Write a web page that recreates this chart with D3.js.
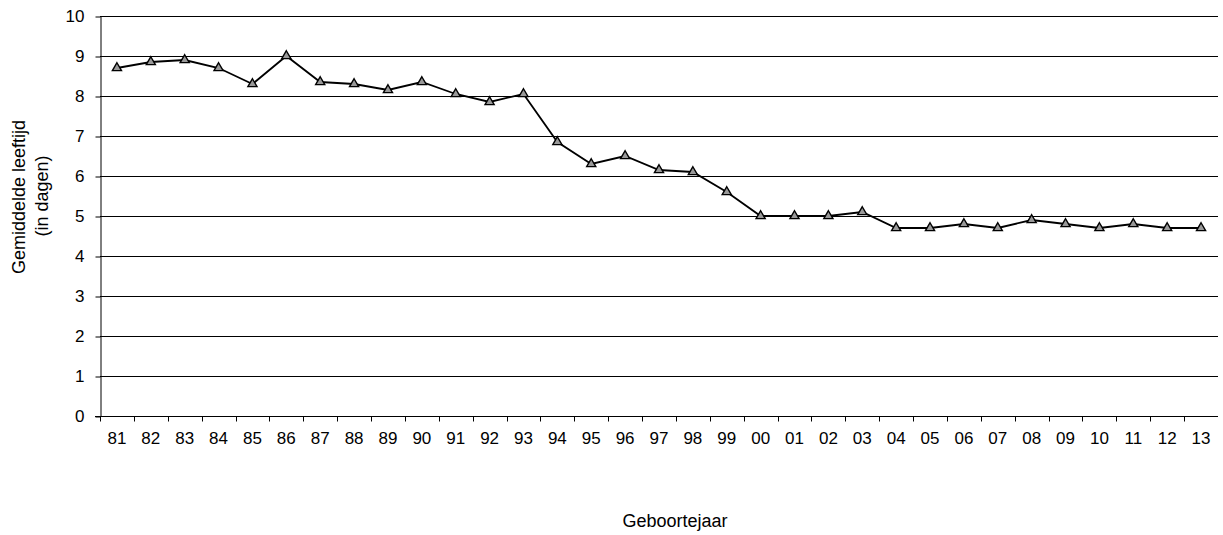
<!DOCTYPE html>
<html>
<head>
<meta charset="utf-8">
<script src="https://cdn.jsdelivr.net/npm/d3@7"></script>
<style>
  body { margin: 0; background: #fff; }
  svg text { font-family: "Liberation Sans", Arial, sans-serif; fill: #000; }
  .axis-text { font-size: 17px; }
  .axis-label { font-size: 18px; }
</style>
</head>
<body>
<div id="chart"></div>
<script>
// categories (birth year, two digits)
const years = ["81","82","83","84","85","86","87","88","89","90","91","92","93","94","95","96","97",
               "98","99","00","01","02","03","04","05","06","07","08","09","10","11","12","13"];
// average age in days
const ages = [8.7, 8.85, 8.9, 8.7, 8.3, 9.0, 8.35, 8.3, 8.15, 8.35, 8.05, 7.85, 8.05, 6.85, 6.3, 6.5, 6.15,
              6.1, 5.6, 5.0, 5.0, 5.0, 5.1, 4.7, 4.7, 4.8, 4.7, 4.9, 4.8, 4.7, 4.8, 4.7, 4.7];
const yTicks = [0, 1, 2, 3, 4, 5, 6, 7, 8, 9, 10];

const width = 1223, height = 535;
const margin = {top: 16, right: 5, bottom: 119, left: 100},
    innerW = width - margin.left - margin.right,
    innerH = height - margin.top - margin.bottom;

const svg = d3.select("#chart")
  .append("svg")
    .attr("width", width)
    .attr("height", height)
  .append("g")
    .attr("transform", "translate(" + margin.left + "," + margin.top + ")");

const xScale = d3.scaleBand()
    .domain(years)
    .range([0, innerW])
    .padding(0);

const yScale = d3.scaleLinear()
    .domain([0, 10])
    .range([innerH, 0]);

// horizontal grid
svg.append("g")
    .selectAll("line")
    .data(yTicks.filter(d => d > 0))
    .enter()
    .append("line")
      .attr("x1", 0)
      .attr("x2", innerW)
      .attr("y1", d => Math.round(yScale(d)) + 0.5)
      .attr("y2", d => Math.round(yScale(d)) + 0.5)
      .attr("stroke", "#000")
      .attr("stroke-width", 1);

// Y axis
const yAxis = svg.append("g")
    .attr("transform", "translate(0.5,0)")
    .call(d3.axisLeft(yScale).tickValues(yTicks).tickSize(5).tickSizeOuter(0).tickPadding(11));
yAxis.selectAll("text").attr("class", "axis-text");
yAxis.selectAll("line, path").attr("stroke", "#000");
yAxis.selectAll(".tick line").attr("transform", "translate(0,0.5)");

// X axis: ticks on band boundaries
const xAxisG = svg.append("g")
    .attr("transform", "translate(0," + (innerH + 0.5) + ")");
xAxisG.append("line")
    .attr("x1", -5).attr("x2", innerW)
    .attr("stroke", "#000");
xAxisG.selectAll(".bt")
    .data(years)
    .enter()
    .append("line")
      .attr("class", "bt")
      .attr("x1", d => Math.round(xScale(d)) + 0.5)
      .attr("x2", d => Math.round(xScale(d)) + 0.5)
      .attr("y1", 0)
      .attr("y2", 5)
      .attr("stroke", "#000");
xAxisG.selectAll(".xl")
    .data(years)
    .enter()
    .append("text")
      .attr("class", "axis-text")
      .attr("text-anchor", "middle")
      .attr("x", d => xScale(d) + xScale.bandwidth() / 2)
      .attr("y", 27)
      .text(d => d);

// axis labels
svg.append("text")
    .attr("class", "axis-label")
    .attr("text-anchor", "middle")
    .attr("transform", `translate(${-75}, 181) rotate(-90)`)
    .text("Gemiddelde leeftijd");
svg.append("text")
    .attr("class", "axis-label")
    .attr("text-anchor", "middle")
    .attr("transform", `translate(${-52}, 180) rotate(-90)`)
    .text("(in dagen)");
svg.append("text")
    .attr("class", "axis-label")
    .attr("text-anchor", "middle")
    .attr("x", 575)
    .attr("y", 511)
    .text("Geboortejaar");

// line
const line = d3.line()
    .x((d, i) => xScale(years[i]) + xScale.bandwidth() / 2)
    .y(d => yScale(d));
svg.append("path")
    .datum(ages)
    .attr("fill", "none")
    .attr("stroke", "#000")
    .attr("stroke-width", 1.8)
    .attr("d", line);

// triangle markers
const tri = d3.symbol().type(d3.symbolTriangle).size(36);
svg.append("g")
    .selectAll("path")
    .data(ages)
    .enter()
    .append("path")
      .attr("d", tri)
      .attr("transform", (d, i) => `translate(${xScale(years[i]) + xScale.bandwidth() / 2},${yScale(d)})`)
      .attr("fill", "#999")
      .attr("stroke", "#000")
      .attr("stroke-width", 1.4);
</script>
</body>
</html>
